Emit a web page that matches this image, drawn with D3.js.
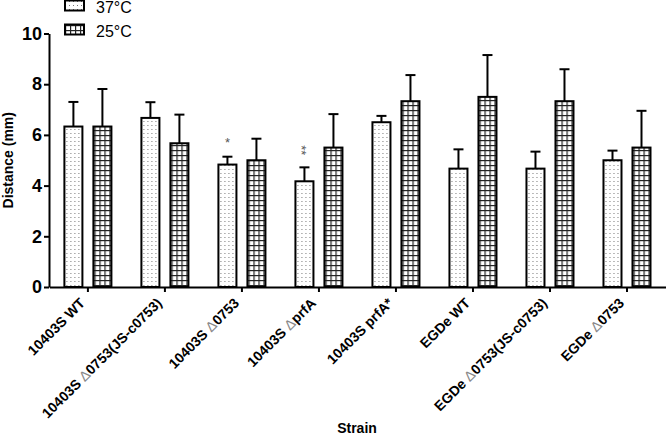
<!DOCTYPE html>
<html>
<head>
<meta charset="utf-8">
<script src="https://cdn.jsdelivr.net/npm/d3@7"></script>
<style>
  html, body { margin: 0; padding: 0; background: #fff; }
  svg { display: block; font-family: "Liberation Sans", Arial, sans-serif; }
</style>
</head>
<body>
<svg id="chart" width="666" height="438"></svg>
<script>
// ---- data ----
const strains = ["10403S WT", "10403S Δ0753(JS-c0753)", "10403S Δ0753", "10403S ΔprfA",
                 "10403S prfA*", "EGDe WT", "EGDe Δ0753(JS-c0753)", "EGDe Δ0753"];
const seriesNames = ["37°C", "25°C"];
const values37 = [6.33, 6.67, 4.83, 4.17, 6.5, 4.67, 4.67, 5.0];
const errors37 = [0.97, 0.62, 0.31, 0.55, 0.25, 0.76, 0.67, 0.38];
const values25 = [6.33, 5.67, 5.0, 5.5, 7.33, 7.5, 7.33, 5.5];
const errors25 = [1.48, 1.13, 0.85, 1.32, 1.03, 1.65, 1.26, 1.45];
const sigMarks = ["", "", "*", "**", "", "", "", ""];
const yTicks = [0, 2, 4, 6, 8, 10];
const yTitle = "Distance (mm)";
const xTitle = "Strain";

const svg = d3.select("#chart");
const defs = svg.append("defs");

// dotted pattern (37°C)
const pDot = defs.append("pattern").attr("id", "dots").attr("patternUnits", "userSpaceOnUse")
  .attr("width", 4).attr("height", 4);
pDot.append("rect").attr("width", 4).attr("height", 4).attr("fill", "#fff");
pDot.append("rect").attr("x", 1).attr("y", 1).attr("width", 1).attr("height", 1).attr("fill", "#777");

// grid pattern (25°C)
const pGrid = defs.append("pattern").attr("id", "grid").attr("patternUnits", "userSpaceOnUse")
  .attr("width", 5).attr("height", 5);
pGrid.append("rect").attr("width", 5).attr("height", 5).attr("fill", "#fff");
pGrid.append("rect").attr("x", 0).attr("y", 0).attr("width", 5).attr("height", 1.2).attr("fill", "#222");
pGrid.append("rect").attr("x", 0).attr("y", 0).attr("width", 1.2).attr("height", 5).attr("fill", "#222");

const fills = ["url(#dots)", "url(#grid)"];

// ---- scales ----
const x0 = d3.scaleBand().domain(strains).range([49.4, 665.5]).padding(0);
const x1 = d3.scaleBand().domain(seriesNames).range([0, x0.bandwidth()])
  .paddingInner(0.379).paddingOuter(0.517);
const y = d3.scaleLinear().domain([0, 10]).range([287, 33.5]);

const rows = strains.map((s, i) => ({
  strain: s,
  vals: [
    { series: seriesNames[0], v: values37[i], e: errors37[i], f: fills[0] },
    { series: seriesNames[1], v: values25[i], e: errors25[i], f: fills[1] }
  ],
  sig: sigMarks[i]
}));

// ---- bars ----
const g = svg.append("g");
const groups = g.selectAll("g.grp").data(rows).join("g")
  .attr("class", "grp")
  .attr("transform", d => `translate(${x0(d.strain)},0)`);

// error bars (drawn first, behind bars)
groups.selectAll("g.err").data(d => d.vals).join("g").attr("class", "err")
  .each(function(d) {
    const cx = x1(d.series) + x1.bandwidth() / 2;
    const sel = d3.select(this);
    sel.append("line").attr("x1", cx).attr("x2", cx)
      .attr("y1", y(d.v)).attr("y2", y(d.v + d.e))
      .attr("stroke", "#000").attr("stroke-width", 2);
    sel.append("line").attr("x1", cx - 5).attr("x2", cx + 5)
      .attr("y1", y(d.v + d.e)).attr("y2", y(d.v + d.e))
      .attr("stroke", "#000").attr("stroke-width", 2);
  });

groups.selectAll("rect.bar").data(d => d.vals).join("rect").attr("class", "bar")
  .attr("x", d => x1(d.series))
  .attr("width", x1.bandwidth())
  .attr("y", d => y(d.v))
  .attr("height", d => y(0) - y(d.v))
  .attr("fill", d => d.f)
  .attr("stroke", "#000")
  .attr("stroke-width", 2);

// significance marks (double mark runs vertically as in the reference)
groups.filter(d => d.sig).append("text")
  .attr("transform", d => {
    const v = d.vals[0];
    const cx = x1(v.series) + x1.bandwidth() / 2;
    const top = y(v.v + v.e);
    return d.sig.length > 1
      ? `translate(${cx - 3},${top - 17}) rotate(90)`
      : `translate(${cx},${top - 14})`;
  })
  .attr("text-anchor", "middle")
  .attr("dominant-baseline", "central")
  .attr("font-size", 13)
  .attr("fill", "#555")
  .text(d => d.sig);

// ---- axes ----
const yAxis = svg.append("g").attr("transform", "translate(49,0)")
  .call(d3.axisLeft(y).tickValues(yTicks).tickSize(5).tickSizeOuter(0).tickPadding(2).tickFormat(d3.format("d")));
yAxis.select(".domain").attr("stroke", "#000").attr("stroke-width", 2);
yAxis.selectAll(".tick line").attr("stroke", "#000").attr("stroke-width", 2);
yAxis.selectAll(".tick text").attr("font-size", 18).attr("font-weight", "bold")
  .attr("fill", "#000").attr("font-family", "Liberation Sans, Arial, sans-serif");

const xAxis = svg.append("g").attr("transform", "translate(0,287)")
  .call(d3.axisBottom(x0).tickSize(5).tickSizeOuter(0).tickFormat(""));
xAxis.select(".domain").attr("stroke", "#000").attr("stroke-width", 2);
xAxis.selectAll(".tick line").attr("stroke", "#000").attr("stroke-width", 2);
xAxis.selectAll(".tick text").remove();

// rotated tick labels with gray Δ
xAxis.selectAll(".tick").each(function(d) {
  const t = d3.select(this).append("text")
    .attr("transform", "translate(-2,17) rotate(-45)")
    .attr("text-anchor", "end")
    .attr("font-size", 14)
    .attr("font-weight", "bold")
    .attr("fill", "#000")
    .attr("font-family", "Liberation Sans, Arial, sans-serif");
  const parts = d.split("Δ");
  parts.forEach((p, i) => {
    if (i > 0) t.append("tspan").attr("fill", "#888").attr("font-weight", "normal").text("Δ");
    t.append("tspan").text(p);
  });
});

// axis titles
svg.append("text")
  .attr("transform", `translate(13,${(y(0) + y(10)) / 2}) rotate(-90)`)
  .attr("text-anchor", "middle")
  .attr("font-size", 14).attr("font-weight", "bold")
  .text(yTitle);

svg.append("text")
  .attr("x", 357).attr("y", 433)
  .attr("text-anchor", "middle")
  .attr("font-size", 14).attr("font-weight", "bold")
  .text(xTitle);

// ---- legend ----
const legend = svg.append("g");
seriesNames.forEach((s, i) => {
  const ly = 0.5 + i * 24;
  legend.append("rect").attr("x", 65).attr("y", ly).attr("width", 19).attr("height", 10)
    .attr("fill", fills[i]).attr("stroke", "#000").attr("stroke-width", 2);
  legend.append("text").attr("x", 96).attr("y", ly + 12)
    .attr("font-size", 16).attr("fill", "#000").text(s);
});
</script>
</body>
</html>
